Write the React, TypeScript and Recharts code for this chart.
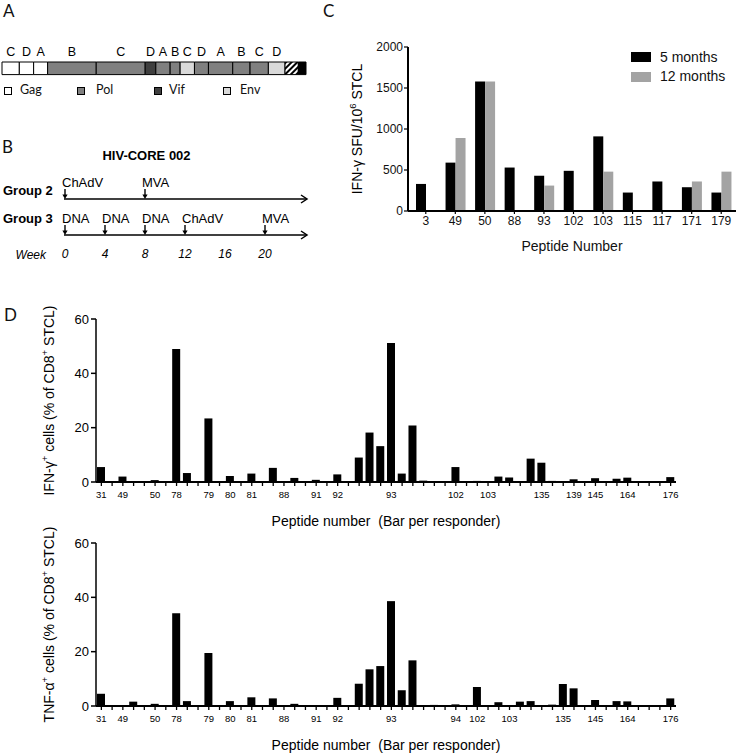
import React from 'react';
import {
  BarChart,
  Bar,
  XAxis,
  YAxis,
  Legend,
  Label,
  LabelList,
  ScatterChart,
  Scatter,
  ReferenceLine,
} from 'recharts';

const SANS = '"Liberation Sans", Arial, sans-serif';
const SOFT = 'Lato, "Open Sans", sans-serif';

// Panel A: genome map segments (left to right)
const segLetters = ['C', 'D', 'A', 'B', 'C', 'D', 'A', 'B', 'C', 'D', 'A', 'B', 'C', 'D', '', ''];
const segGenes = ['Gag', 'Gag', 'Gag', 'Pol', 'Pol', 'Vif', 'Pol', 'Pol', 'Env', 'Pol', 'Pol', 'Pol', 'Pol', 'Env', 'Tag', 'End'];
const segLengths = [52, 43, 42, 146, 147, 32, 43, 30, 43, 42, 73, 52, 55, 50, 40, 23];
const geneLegend = ['Gag', 'Pol', 'Vif', 'Env'];

// Panel B: vaccination schedule
const weekTicks = [0, 4, 8, 12, 16, 20];
const groupNames = ['Group 3', 'Group 2'];
const group2Weeks = [0, 8];
const group2Vaccines = ['ChAdV', 'MVA'];
const group3Weeks = [0, 4, 8, 12, 20];
const group3Vaccines = ['DNA', 'DNA', 'DNA', 'ChAdV', 'MVA'];

// Panel C: IFN-g ELISpot
const peptidesC = ['3', '49', '50', '88', '93', '102', '103', '115', '117', '171', '179'];
const sfu5 = [330, 590, 1580, 530, 430, 490, 910, 225, 360, 290, 225];
const sfu12 = [0, 890, 1580, 0, 310, 0, 480, 0, 0, 360, 480];

// Panel D: one slot per responder bar
const ifnValues = [
  5.5, 0, 2.0, 0, 0, 0.7, 0, 49, 3.3, 0, 23.4, 0, 2.2, 0, 3.1, 0, 5.2, 0.3, 1.5, 0,
  0.8, 0, 2.8, 0, 9.0, 18.2, 13.2, 51.2, 3.1, 20.8, 0.5, 0, 0, 5.5, 0, 0.4, 0, 2.0, 1.7, 0,
  8.6, 7.1, 0.4, 0, 1.0, 0, 1.4, 0, 1.2, 1.6, 0, 0, 0, 1.8,
];
const ifnLabels = [
  '31', '', '49', '', '', '50', '', '78', '', '', '79', '', '80', '', '81', '', '', '88', '', '',
  '91', '', '92', '', '', '', '', '93', '', '', '', '', '', '102', '', '', '103', '', '', '',
  '', '135', '', '', '139', '', '145', '', '', '164', '', '', '', '176',
];
const tnfValues = [
  4.5, 0, 0, 1.6, 0, 0.8, 0, 34.1, 1.8, 0, 19.5, 0, 1.8, 0, 3.2, 0, 2.8, 0, 0.8, 0,
  0.3, 0, 3.0, 0, 8.2, 13.5, 14.7, 38.6, 5.8, 16.8, 0, 0.4, 0, 0.6, 0, 7.0, 0, 1.4, 0.2, 1.6,
  1.8, 0, 0.5, 8.1, 6.5, 0, 2.2, 0, 1.8, 1.7, 0, 0, 0, 2.8,
];
const tnfLabels = [
  '31', '', '49', '', '', '50', '', '78', '', '', '79', '', '80', '', '81', '', '', '88', '', '',
  '91', '', '92', '', '', '', '', '93', '', '', '', '', '', '94', '', '102', '', '', '103', '',
  '', '', '', '135', '', '', '145', '', '', '164', '', '', '', '176',
];

const geneColors: Record<string, string> = {
  Gag: '#ffffff',
  Pol: '#808080',
  Vif: '#3f3f3f',
  Env: '#d9d9d9',
  Tag: 'url(#hatchA)',
  End: '#000000',
};

type Part = { t: string; sup?: boolean };
const cTitle: Part[] = [{ t: 'IFN-γ SFU/10' }, { t: '6', sup: true }, { t: ' STCL' }];
const ifnTitle: Part[] = [{ t: 'IFN-γ' }, { t: '+', sup: true }, { t: ' cells (% of CD8' }, { t: '+', sup: true }, { t: ' STCL)' }];
const tnfTitle: Part[] = [{ t: 'TNF-α' }, { t: '+', sup: true }, { t: ' cells (% of CD8' }, { t: '+', sup: true }, { t: ' STCL)' }];

// rotated axis title with superscripts
const RotTitle = ({ cx, cy, parts, size }: { cx: number; cy: number; parts: Part[]; size: number }) => {
  let raised = false;
  const rise = size * 0.38;
  return (
    <text
      x={cx}
      y={cy}
      transform={`rotate(-90 ${cx} ${cy})`}
      textAnchor="middle"
      dominantBaseline="central"
      fontSize={size}
      fill="#000"
    >
      {parts.map((p, i) => {
        let dy = 0;
        if (p.sup && !raised) {
          dy = -rise;
          raised = true;
        } else if (!p.sup && raised) {
          dy = rise;
          raised = false;
        }
        return (
          <tspan key={i} dy={dy} fontSize={p.sup ? size * 0.68 : size}>
            {p.t}
          </tspan>
        );
      })}
    </text>
  );
};

const PanelLetter = ({ letter, left, top }: { letter: string; left: number; top: number }) => (
  <div style={{ position: 'absolute', left, top, fontFamily: SOFT, fontSize: 17, lineHeight: '22px', color: '#111' }}>
    {letter}
  </div>
);

// ---------- Panel A ----------
const legendSquareX = [4, 77, 154, 223];
const legendTextX = [20, 96, 169, 240];

const GenomeLegend = () => (
  <div style={{ position: 'relative', width: 320, height: 20, fontFamily: SOFT, fontSize: 12.5, color: '#111' }}>
    {geneLegend.map((g, i) => (
      <React.Fragment key={g}>
        <div
          style={{
            position: 'absolute',
            left: legendSquareX[i],
            top: 6,
            width: 6,
            height: 6,
            border: '1px solid #000',
            background: geneColors[g],
          }}
        />
        <span style={{ position: 'absolute', left: legendTextX[i], top: 1, lineHeight: '16px' }}>{g}</span>
      </React.Fragment>
    ))}
  </div>
);

const GenomeMap = () => {
  const row: Record<string, any> = { name: 'map' };
  segLengths.forEach((v, i) => (row[`s${i}`] = v));
  const total = segLengths.reduce((a, b) => a + b, 0);
  return (
    <BarChart
      width={320}
      height={80}
      data={[row]}
      layout="vertical"
      margin={{ top: 31, right: 14, left: 2, bottom: 35 }}
      barCategoryGap={0}
    >
      <defs>
        <pattern id="hatchA" width="4" height="4" patternUnits="userSpaceOnUse" patternTransform="rotate(45)">
          <rect width="4" height="4" fill="#fff" />
          <rect width="2" height="4" fill="#000" />
        </pattern>
      </defs>
      <XAxis type="number" hide domain={[0, total]} />
      <YAxis type="category" dataKey="name" hide />
      {segLengths.map((_, i) => (
        <Bar
          key={i}
          dataKey={`s${i}`}
          stackId="g"
          fill={geneColors[segGenes[i]]}
          stroke="#000"
          strokeWidth={1}
          barSize={14}
          isAnimationActive={false}
        >
          <LabelList
            dataKey={`s${i}`}
            position="top"
            offset={6}
            formatter={() => segLetters[i]}
            fontSize={12.5}
            fill="#000"
            fontFamily={SANS}
          />
        </Bar>
      ))}
      <Legend
        layout="vertical"
        align="center"
        verticalAlign="middle"
        wrapperStyle={{ left: 0, top: 51, width: 320 }}
        content={() => <GenomeLegend />}
      />
    </BarChart>
  );
};

// ---------- Panel B ----------
const DoseMark = (props: any) => {
  const { cx, cy, payload } = props;
  return (
    <g>
      <line x1={cx} y1={cy - 10} x2={cx} y2={cy - 3} stroke="#000" strokeWidth={1.4} />
      <path d={`M${cx - 2.6},${cy - 4.5} L${cx + 2.6},${cy - 4.5} L${cx},${cy} Z`} fill="#000" />
      <text x={cx - 3} y={cy - 12} fontSize={13} fill="#000" fontFamily={SANS}>
        {payload.vac}
      </text>
    </g>
  );
};

const ArrowLine = (props: any) => {
  const { x1, y1, x2 } = props;
  return (
    <g>
      <line x1={x1 - 1} y1={y1} x2={x2} y2={y1} stroke="#000" strokeWidth={1.5} />
      <path d={`M${x2 - 6},${y1 - 4} L${x2},${y1} L${x2 - 6},${y1 + 4}`} fill="none" stroke="#000" strokeWidth={1.5} />
    </g>
  );
};

const GroupTick = (props: any) => {
  const { y, payload } = props;
  return (
    <text x={3} y={y + (payload.value === 1 ? -4.5 : -12.5)} fontSize={13} fontWeight="bold" fill="#000" fontFamily={SANS}>
      {groupNames[payload.value]}
    </text>
  );
};

const Schedule = () => {
  const g2 = group2Weeks.map((w, i) => ({ week: w, level: 1, vac: group2Vaccines[i] }));
  const g3 = group3Weeks.map((w, i) => ({ week: w, level: 0, vac: group3Vaccines[i] }));
  return (
    <ScatterChart width={320} height={135} margin={{ top: 59, right: 13, left: 0, bottom: 0 }}>
      <XAxis
        type="number"
        dataKey="week"
        domain={[0, 24.2]}
        ticks={weekTicks}
        height={40}
        axisLine={false}
        tickLine={false}
        tickMargin={8}
        tick={{ fontSize: 12, fontStyle: 'italic', fill: '#000', fontFamily: SANS }}
      >
        <Label value="Week" position="left" offset={19} fontSize={12} fontStyle="italic" fill="#000" fontFamily={SANS} />
      </XAxis>
      <YAxis
        type="number"
        dataKey="level"
        domain={[0, 1]}
        ticks={[0, 1]}
        width={65}
        axisLine={false}
        tickLine={false}
        tick={<GroupTick />}
      />
      <ReferenceLine y={1} shape={<ArrowLine />} />
      <ReferenceLine y={0} shape={<ArrowLine />} />
      <Scatter data={g2} shape={<DoseMark />} isAnimationActive={false} />
      <Scatter data={g3} shape={<DoseMark />} isAnimationActive={false} />
    </ScatterChart>
  );
};

// ---------- Panel C ----------
const MonthsLegend = () => (
  <div style={{ position: 'relative', width: 100, height: 34, fontFamily: SANS, fontSize: 14, color: '#111' }}>
    <div style={{ position: 'absolute', left: 0, top: 0, width: 20, height: 10, background: '#000' }} />
    <span style={{ position: 'absolute', left: 29, top: -3, lineHeight: '16px', whiteSpace: 'nowrap' }}>5 months</span>
    <div style={{ position: 'absolute', left: 0, top: 20, width: 20, height: 10, background: '#a3a3a3' }} />
    <span style={{ position: 'absolute', left: 29, top: 16, lineHeight: '16px', whiteSpace: 'nowrap' }}>12 months</span>
  </div>
);

const ElispotChart = () => {
  const data = peptidesC.map((p, i) => ({ peptide: p, m5: sfu5[i], m12: sfu12[i] }));
  return (
    <BarChart
      width={416}
      height={290}
      data={data}
      margin={{ top: 47, right: 0, left: 0, bottom: 0 }}
      barSize={10}
      barGap={0}
    >
      <XAxis
        dataKey="peptide"
        height={79}
        padding={{ left: 3, right: 0 }}
        interval={0}
        tickSize={3}
        tick={{ fontSize: 12, fill: '#111', fontFamily: SANS }}
        axisLine={{ stroke: '#000', strokeWidth: 2 }}
        tickLine={{ stroke: '#000', strokeWidth: 1.2 }}
      >
        <Label value="Peptide Number" position="insideTop" offset={30} fontSize={14} fill="#111" fontFamily={SANS} />
      </XAxis>
      <YAxis
        domain={[0, 2000]}
        ticks={[0, 500, 1000, 1500, 2000]}
        width={88}
        tickSize={4}
        tickMargin={1}
        tick={{ fontSize: 12, fill: '#111', fontFamily: SANS }}
        axisLine={{ stroke: '#000', strokeWidth: 2 }}
        tickLine={{ stroke: '#000', strokeWidth: 1.2 }}
      >
        <Label
          content={(p: any) => {
            const vb = p.viewBox || { y: 47, height: 164 };
            return <RotTitle cx={37} cy={vb.y + vb.height / 2} parts={cTitle} size={14} />;
          }}
        />
      </YAxis>
      <Bar dataKey="m5" name="5 months" fill="#000" isAnimationActive={false} />
      <Bar dataKey="m12" name="12 months" fill="#a3a3a3" isAnimationActive={false} />
      <Legend
        layout="vertical"
        align="center"
        verticalAlign="middle"
        wrapperStyle={{ left: 311, top: 52, width: 100 }}
        content={() => <MonthsLegend />}
      />
    </BarChart>
  );
};

// ---------- Panel D ----------
const ResponderChart = ({
  values,
  labels,
  title,
  height,
  marginTop,
}: {
  values: number[];
  labels: string[];
  title: Part[];
  height: number;
  marginTop: number;
}) => {
  const rows = values.map((v, i) => ({ slot: i, pct: v }));
  return (
    <BarChart
      width={736}
      height={height}
      data={rows}
      margin={{ top: marginTop, right: 60, left: 0, bottom: 0 }}
      barSize={8}
    >
      <XAxis
        dataKey="slot"
        type="category"
        interval={0}
        height={48}
        tickSize={4}
        tickMargin={5}
        tickFormatter={(v: number) => labels[v]}
        tick={{ fontSize: 9.5, fill: '#000', fontFamily: SANS }}
        axisLine={{ stroke: '#000', strokeWidth: 2 }}
        tickLine={{ stroke: '#000', strokeWidth: 1.3 }}
      >
        <Label
          value={'Peptide number\u00A0 (Bar per responder)'}
          position="insideTop"
          offset={34}
          fontSize={14}
          fill="#000"
          fontFamily={SANS}
        />
      </XAxis>
      <YAxis
        domain={[0, 60]}
        ticks={[0, 20, 40, 60]}
        width={96}
        tickSize={5}
        tick={{ fontSize: 13, fill: '#000', fontFamily: SANS }}
        axisLine={{ stroke: '#000', strokeWidth: 1.5 }}
        tickLine={{ stroke: '#000', strokeWidth: 1.5 }}
      >
        <Label
          content={(p: any) => {
            const vb = p.viewBox || { y: marginTop, height: height - marginTop - 48 };
            return <RotTitle cx={49} cy={vb.y + vb.height / 2} parts={title} size={14} />;
          }}
        />
      </YAxis>
      <Bar dataKey="pct" fill="#000" isAnimationActive={false} />
    </BarChart>
  );
};

export default function App() {
  return (
    <div
      style={{
        position: 'absolute',
        left: 0,
        top: 0,
        width: 736,
        height: 754,
        background: '#fff',
        fontFamily: SANS,
        overflow: 'hidden',
      }}
    >
      <PanelLetter letter="A" left={3} top={0} />
      <PanelLetter letter="B" left={2} top={136} />
      <PanelLetter letter="C" left={323} top={0} />
      <PanelLetter letter="D" left={4} top={304} />

      <div style={{ position: 'absolute', left: 0, top: 30 }}>
        <GenomeMap />
      </div>

      <div
        style={{
          position: 'absolute',
          left: 0,
          top: 148,
          width: 293,
          textAlign: 'center',
          fontWeight: 'bold',
          fontSize: 13,
          lineHeight: '16px',
          color: '#000',
        }}
      >
        HIV-CORE 002
      </div>
      <div style={{ position: 'absolute', left: 0, top: 140 }}>
        <Schedule />
      </div>

      <div style={{ position: 'absolute', left: 320, top: 0 }}>
        <ElispotChart />
      </div>

      <div style={{ position: 'absolute', left: 0, top: 300 }}>
        <ResponderChart values={ifnValues} labels={ifnLabels} title={ifnTitle} height={230} marginTop={19} />
      </div>
      <div style={{ position: 'absolute', left: 0, top: 520 }}>
        <ResponderChart values={tnfValues} labels={tnfLabels} title={tnfTitle} height={234} marginTop={23} />
      </div>
    </div>
  );
}
